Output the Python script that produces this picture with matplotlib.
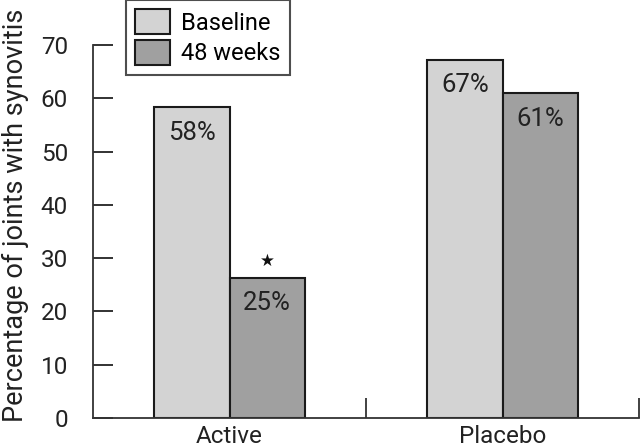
import matplotlib
matplotlib.use("Agg")
import matplotlib.pyplot as plt
from matplotlib.ticker import FixedLocator
import numpy as np

categories = ["Active", "Placebo"]
series_names = ["Baseline", "48 weeks"]
baseline = [58.3, 67.2]
week48 = [26.3, 60.9]
labels_baseline = ["58%", "67%"]
labels_week48 = ["25%", "61%"]
yticks = [0, 10, 20, 30, 40, 50, 60, 70]
star_value = 26.3

plt.rcParams['font.family'] = ['Roboto', 'DejaVu Sans']
FS = 17.5

fig = plt.figure(figsize=(6.4, 4.48), dpi=100)
ax = fig.add_axes([93/640, 30/448, 546/640, 373/448])

x = np.arange(len(categories))
w = 0.275
c_light = "#d3d3d3"
c_dark = "#a0a0a0"
edge = "#1a1a1a"
b1 = ax.bar(x - w/2, baseline, w, color=c_light, edgecolor=edge, linewidth=1.5, label=series_names[0], zorder=2)
b2 = ax.bar(x + w/2, week48, w, color=c_dark, edgecolor=edge, linewidth=1.5, label=series_names[1], zorder=2)

for xi, v, s in zip(x - w/2, baseline, labels_baseline):
    ax.annotate(s, (xi, v), xytext=(0, -9.5), textcoords="offset points", ha="center", va="top", fontsize=18.5, color="#222222")
for xi, v, s in zip(x + w/2, week48, labels_week48):
    ax.annotate(s, (xi, v), xytext=(0, -9.5), textcoords="offset points", ha="center", va="top", fontsize=18.5, color="#222222")

ax.annotate("★", (x[0] + w/2, star_value), xytext=(0, 6), textcoords="offset points", ha="center", va="bottom",
            fontsize=12, color="#111111", family="DejaVu Sans")

ax.set_xlim(-0.5, 1.5)
ax.set_ylim(0, 70)
ax.set_yticks(yticks)
ax.set_xticks(x)
ax.set_xticklabels(categories)
ax.xaxis.set_minor_locator(FixedLocator([0.5, 1.5]))
ax.tick_params(axis="y", direction="in", length=14.4, width=1.3, pad=18, labelsize=FS, colors="#222222")
ax.tick_params(axis="x", which="major", length=0, pad=5, labelsize=FS, colors="#222222")
ax.tick_params(axis="x", which="minor", direction="in", length=14.4, width=1.3, colors="#333333")

for s in ["top", "right"]:
    ax.spines[s].set_visible(False)
for s in ["left", "bottom"]:
    ax.spines[s].set_linewidth(1.3)
    ax.spines[s].set_color("#333333")

fig.text(15/640, 0.52, "Percentage of joints with synovitis", rotation=90, ha="center", va="center", fontsize=19.5, color="#222222")

leg = fig.legend(handles=[b1, b2], loc="upper left", bbox_to_anchor=(126/640, 1.0), fontsize=17,
                 frameon=True, fancybox=False, handlelength=1.45, handleheight=1.2, handletextpad=0.5,
                 labelspacing=0.25, borderpad=0.4, borderaxespad=0)
leg.get_frame().set_edgecolor("#222222")
leg.get_frame().set_linewidth(1.5)

fig.savefig("out.png", dpi=100)
